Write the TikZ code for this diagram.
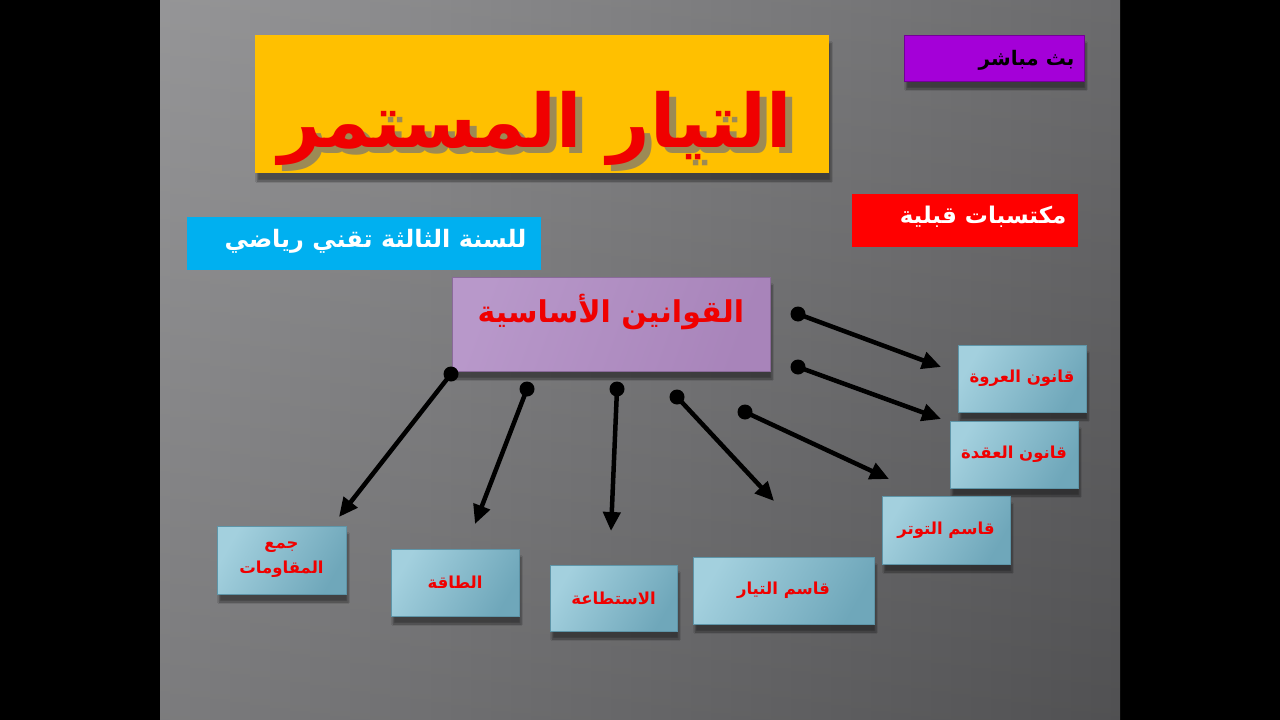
\documentclass[tikz,border=0pt]{standalone}
\usepackage{fontspec}
\usetikzlibrary{arrows.meta,shadows,shadows.blur,shadings}
\newfontfamily\arabicfont[Script=Arabic]{DejaVu Sans}
\TeXXeTstate=1
\definecolor{slidegrayA}{HTML}{8A8A8C}
\definecolor{slidegrayB}{HTML}{9E9EA0}
\definecolor{slidegrayC}{HTML}{5A5A5C}
\definecolor{titleyellow}{HTML}{FFC000}
\definecolor{titleshade}{HTML}{9C8A55}
\definecolor{livepurple}{HTML}{A400D8}
\definecolor{levelcyan}{HTML}{00B0F0}
\definecolor{lilacA}{HTML}{B898CA}
\definecolor{lilacB}{HTML}{D8C0E4}
\definecolor{lilacC}{HTML}{A884BA}
\definecolor{lilacedge}{HTML}{8A6A9A}
\definecolor{blueA}{HTML}{A3D0DE}
\definecolor{blueB}{HTML}{BDE0EA}
\definecolor{blueC}{HTML}{6FA7BA}
\definecolor{blueedge}{HTML}{5E95A8}
\definecolor{textred}{HTML}{F00000}
\newcommand{\titletext}{\beginR التيار المستمر\endR}
\tikzset{
  softshadow/.style={blur shadow={shadow xshift=2pt, shadow yshift=-8pt, shadow blur steps=6, shadow opacity=45}},
  bluebox/.style={draw=blueedge, line width=0.8pt, left color=blueA, middle color=blueB, right color=blueC, shading angle=60,
    minimum width=128pt, minimum height=67pt, inner sep=0pt, softshadow},
  boxlabel/.style={text=textred, font=\arabicfont\bfseries\fontsize{16.5}{22}\selectfont, align=center},
  conn/.style={line width=4.5pt, black, -{Triangle[length=19pt,width=17pt]}},
  dotend/.style={circle, fill=black, inner sep=0pt, minimum size=15pt},
}
\begin{document}
\begin{tikzpicture}[x=1pt,y=-1pt]
\useasboundingbox (0,0) rectangle (1280,720);
\fill[black] (0,0) rectangle (1280,720);
\shade[left color=slidegrayA, middle color=slidegrayB, right color=slidegrayC] (160,0) rectangle (1120,720);
\shade[top color=white, bottom color=black, opacity=0.10] (160,0) rectangle (1120,720);

% title
\node[fill=titleyellow, minimum width=574pt, minimum height=138pt, inner sep=0pt, softshadow] (titlebox) at (542,104) {};
\node[font=\arabicfont\bfseries\fontsize{74}{78}\selectfont] (title) at (535,131)
  {\rlap{\kern7pt\raisebox{-6pt}{\textcolor{titleshade}{\titletext}}}\textcolor{textred}{\titletext}};

% live
\node[fill=livepurple, draw=livepurple!70!black, minimum width=180pt, minimum height=46pt, inner sep=0pt, softshadow] (livebox) at (994,58) {};
\node[anchor=east, text=black, font=\arabicfont\bfseries\fontsize{20}{22}\selectfont] (live) at (1078,60) {\beginR بث مباشر\endR};

% prior
\node[fill=red, minimum width=226pt, minimum height=53pt, inner sep=0pt] (priorbox) at (965,220.5) {};
\node[anchor=east, text=white, font=\arabicfont\bfseries\fontsize{23}{26}\selectfont] (prior) at (1070,217) {\beginR مكتسبات قبلية\endR};

% level
\node[fill=levelcyan, minimum width=354pt, minimum height=53pt, inner sep=0pt] (levelbox) at (364,243.5) {};
\node[anchor=east, text=white, font=\arabicfont\bfseries\fontsize{24}{26}\selectfont] (level) at (530,241) {\beginR للسنة الثالثة تقني رياضي\endR};

% main
\node[draw=lilacedge, line width=1pt, left color=lilacA, middle color=lilacB, right color=lilacC, shading angle=70,
  minimum width=318pt, minimum height=94pt, inner sep=0pt, softshadow] (mainbox) at (611,324) {};
\node[text=textred, font=\arabicfont\bfseries\fontsize{30}{34}\selectfont] (main) at (611,312) {\beginR القوانين الأساسية\endR};

% blue boxes
\node[bluebox] (loop) at (1022,378.5) {};
\node[boxlabel] at (loop) {\beginR قانون العروة\endR};
\node[bluebox] (junction) at (1014,454.5) {};
\node[boxlabel] at (junction) {\beginR قانون العقدة\endR};
\node[bluebox, minimum height=68pt] (vdiv) at (946,530) {};
\node[boxlabel] at (vdiv) {\beginR قاسم التوتر\endR};
\node[bluebox, minimum width=181pt] (idiv) at (783.5,590.5) {};
\node[boxlabel] at (idiv) {\beginR قاسم التيار\endR};
\node[bluebox, minimum width=127pt, minimum height=66pt] (power) at (613.5,598) {};
\node[boxlabel] at (power) {\beginR الاستطاعة\endR};
\node[bluebox] (energy) at (455,582.5) {};
\node[boxlabel] at (energy) {\beginR الطاقة\endR};
\node[bluebox, minimum width=129pt, minimum height=68pt] (resist) at (281.5,560) {};
\node[boxlabel, font=\arabicfont\bfseries\fontsize{16.5}{25}\selectfont] at (resist) {\beginR جمع\endR\\\beginR المقاومات\endR};

% connectors
\node[dotend] (s1) at (798,314) {};
\node[dotend] (s2) at (798,367) {};
\node[dotend] (s3) at (745,412) {};
\node[dotend] (s4) at (677,397) {};
\node[dotend] (s5) at (617,389) {};
\node[dotend] (s6) at (527,389) {};
\node[dotend] (s7) at (451,374) {};
\coordinate (e1) at (941,367);
\coordinate (e2) at (941,419);
\coordinate (e3) at (889,479);
\coordinate (e4) at (774,501);
\coordinate (e5) at (611,531);
\coordinate (e6) at (475,524);
\coordinate (e7) at (339,517);
\foreach \i in {1,...,7} { \draw[conn] (s\i.center) -- (e\i); }
\end{tikzpicture}
\end{document}
